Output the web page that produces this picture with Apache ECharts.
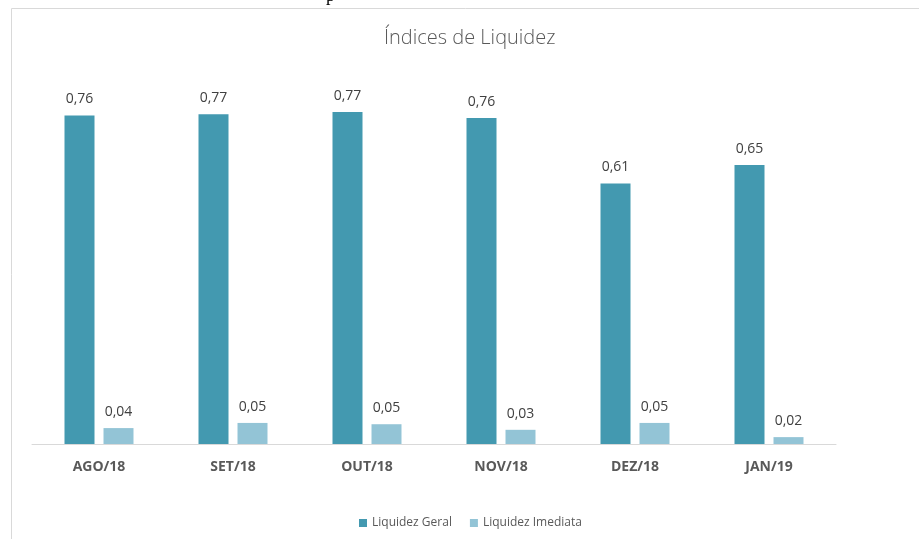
<!DOCTYPE html>
<html style="height: 100%;width: 100%;">
<head>
  <meta charset="UTF-8">
  <title>Índices de Liquidez</title>
  <script src="https://cdn.jsdelivr.net/npm/echarts@6/dist/echarts.min.js"></script>
</head>
<body style="margin: 0;height: 100%;width: 100%;background: #ffffff;">
  <div id="chart" style="width: 919px;height: 539px;"></div>
<script>
  // dados
  var meses = ['AGO/18', 'SET/18', 'OUT/18', 'NOV/18', 'DEZ/18', 'JAN/19'];
  var liquidezGeral = [0.764, 0.767, 0.772, 0.758, 0.606, 0.649];
  var liquidezImediata = [0.037, 0.049, 0.046, 0.033, 0.049, 0.016];

  function virgula(p) {
    return p.value.toFixed(2).replace('.', ',');
  }

  var chart = echarts.init(document.getElementById('chart'));
  var opt = {
    animation: false,
    textStyle: { fontFamily: 'Open Sans' },
    title: {
      text: 'Índices de Liquidez',
      left: 379,
      top: 23,
      textStyle: { fontSize: 20, fontWeight: 300, color: '#595959', fontFamily: 'Open Sans' }
    },
    legend: {
      bottom: 5,
      left: 354,
      itemWidth: 8,
      itemHeight: 8,
      itemGap: 18,
      icon: 'rect',
      textStyle: { fontSize: 12, color: '#595959' },
      data: ['Liquidez Geral', 'Liquidez Imediata']
    },
    graphic: [{
      type: 'rect',
      shape: { x: 11.5, y: 8.5, width: 1000, height: 1000 },
      style: { fill: 'none', stroke: '#d9d9d9', lineWidth: 1 },
      silent: true
    }, {
      // resto de texto cortado no topo da imagem
      type: 'text',
      left: 326,
      top: -13,
      style: { text: 'p', fontSize: 18, fontFamily: 'Liberation Serif', fill: '#000000' },
      silent: true
    }],
    grid: { left: 32, right: 83, top: 57, bottom: 95 },
    xAxis: {
      type: 'category',
      data: meses,
      axisLine: { lineStyle: { color: '#d9d9d9' } },
      axisTick: { show: false },
      axisLabel: { margin: 16, fontSize: 14, fontWeight: 'bold', color: '#595959' }
    },
    yAxis: {
      type: 'value',
      min: 0,
      max: 0.9,
      show: false,
      splitLine: { show: false }
    },
    series: [{
      name: 'Liquidez Geral',
      type: 'bar',
      data: liquidezGeral,
      barWidth: 30,
      barGap: '30%',
      itemStyle: { color: '#4399b0' },
      label: { show: true, position: 'top', distance: 9, fontSize: 14, color: '#404040', formatter: virgula }
    }, {
      name: 'Liquidez Imediata',
      type: 'bar',
      data: liquidezImediata,
      barWidth: 30,
      itemStyle: { color: '#93c4d6' },
      label: { show: true, position: 'top', distance: 9, fontSize: 14, color: '#404040', formatter: virgula }
    }]
  };
  chart.setOption(opt);
</script>
</body>
</html>
